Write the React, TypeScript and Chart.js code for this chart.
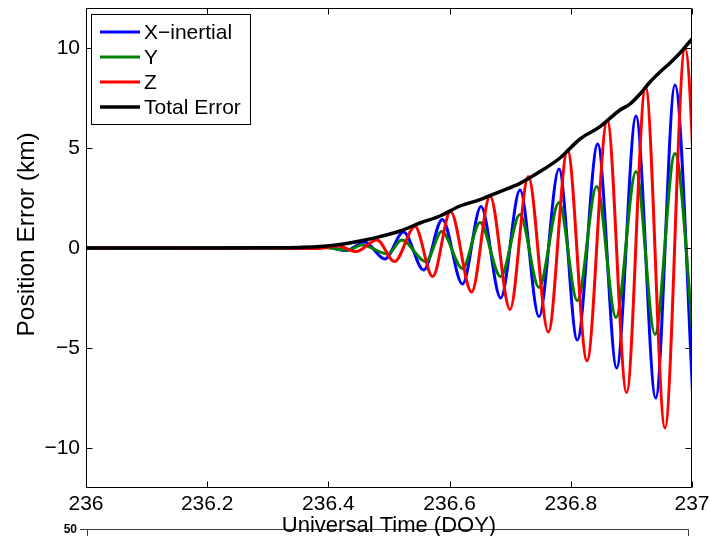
import React, { useEffect, useRef } from 'react';
import { Chart, registerables } from 'chart.js';

Chart.register(...registerables);

// ---- data (Day Of Year, km) ----
const xTicks = [236, 236.2, 236.4, 236.6, 236.8, 237];
const yTicks = [-10, -5, 0, 5, 10];

const blueX = [236, 236.1, 236.2, 236.3, 236.3317, 236.3652, 236.3959, 236.4292, 236.4599, 236.4932, 236.5239, 236.5573, 236.5879, 236.6213, 236.6518, 236.6843, 236.7162, 236.7475, 236.7805, 236.8107, 236.8444, 236.8757, 236.9076, 236.9401, 236.9719, 237.0039];
const blueY = [0, 0, 0, 0, 0.01, -0.02, 0.05, -0.13, 0.3, -0.55, 0.8, -1.1, 1.43, -1.8, 2.07, -2.5, 2.9, -3.43, 3.95, -4.6, 5.2, -6.0, 6.6, -7.5, 8.15, -9.0];

const greenX = [236, 236.1, 236.2, 236.3, 236.3647, 236.3911, 236.4323, 236.4554, 236.4983, 236.521, 236.5611, 236.587, 236.6213, 236.6502, 236.6843, 236.7162, 236.7475, 236.7805, 236.8107, 236.8427, 236.8746, 236.9076, 236.9389, 236.9719, 237.0033];
const greenY = [0, 0, 0, 0, -0.01, 0.02, -0.1, 0.15, -0.3, 0.4, -0.68, 0.82, -1.02, 1.27, -1.43, 1.68, -1.97, 2.27, -2.63, 3.07, -3.47, 3.82, -4.32, 4.73, -5.0];

const redX = [236, 236.1, 236.2, 236.3, 236.382, 236.4165, 236.4455, 236.4802, 236.5091, 236.5429, 236.5721, 236.6015, 236.6363, 236.6667, 236.6997, 236.7299, 236.7629, 236.7946, 236.8267, 236.8601, 236.8921, 236.9234, 236.9554, 236.9884, 237.021];
const redY = [0, 0.01, -0.01, 0, -0.03, 0.1, -0.18, 0.4, -0.68, 1.07, -1.43, 1.82, -2.2, 2.6, -3.07, 3.57, -4.2, 4.9, -5.64, 6.4, -7.23, 8.07, -9.0, 10.0, -10.8];

const totalX = [236, 236.1, 236.2, 236.3, 236.3531, 236.3861, 236.4191, 236.4521, 236.4851, 236.5182, 236.5512, 236.5842, 236.6172, 236.6502, 236.6832, 236.7162, 236.7492, 236.7822, 236.8152, 236.8482, 236.8812, 236.8977, 236.9142, 236.9307, 236.9472, 236.9637, 236.9802, 237.0];
const totalY = [0, 0, 0, 0.01, 0.03, 0.07, 0.18, 0.35, 0.57, 0.85, 1.25, 1.6, 2.1, 2.42, 2.82, 3.23, 3.82, 4.5, 5.45, 6.07, 6.9, 7.2, 7.7, 8.3, 8.8, 9.25, 9.75, 10.45];

const seriesLabels = ['X\u2212inertial', 'Y', 'Z', 'Total Error'];
const seriesColors = ['#0000ff', '#008000', '#ff0000', '#000000'];

const FONT = "'Liberation Sans', Arial, Helvetica, sans-serif";

const pts = (xs: number[], ys: number[]) => xs.map((x, i) => ({ x, y: ys[i] }));

const fmtMinus = (v: number) => (v < 0 ? '\u2212' + String(Math.abs(v)) : String(v));

const zeroPad = (s: any) => {
  s.paddingTop = 0;
  s.paddingBottom = 0;
  s.paddingLeft = 0;
  s.paddingRight = 0;
};

const framePlugin = {
  id: 'matlabFrame',
  beforeDraw(chart: any) {
    const ctx = chart.ctx;
    const ca = chart.chartArea;
    ctx.save();
    // remnant of the next subplot at the bottom of the figure
    ctx.strokeStyle = '#3a3a3a';
    ctx.lineWidth = 1;
    ctx.beginPath();
    ctx.moveTo(ca.left + 1.5, 529.5);
    ctx.lineTo(688.5, 529.5);
    ctx.moveTo(ca.left + 1.5, 529.5);
    ctx.lineTo(ca.left + 1.5, 540);
    ctx.moveTo(688.5, 529.5);
    ctx.lineTo(688.5, 540);
    ctx.moveTo(ca.left - 6, 529.5);
    ctx.lineTo(ca.left + 1.5, 529.5);
    ctx.stroke();
    ctx.fillStyle = '#000';
    ctx.font = `bold 12px ${FONT}`;
    ctx.textAlign = 'right';
    ctx.textBaseline = 'middle';
    ctx.fillText('50', ca.left - 9, 530);
    ctx.restore();
  },
  afterDatasetsDraw(chart: any) {
    const ctx = chart.ctx;
    const ca = chart.chartArea;
    const xs = chart.scales.x;
    const ys = chart.scales.y;
    const L = Math.round(ca.left) + 0.5;
    const R = Math.round(ca.right) - 0.5;
    const T = Math.round(ca.top) + 0.5;
    const B = Math.round(ca.bottom) - 0.5;
    ctx.save();
    ctx.strokeStyle = '#000';
    ctx.lineWidth = 1;
    ctx.beginPath();
    ctx.rect(L, T, R - L, B - T);
    const tl = 6;
    xs.ticks.forEach((t: any) => {
      const px = Math.round(xs.getPixelForValue(t.value)) + 0.5;
      ctx.moveTo(px, B);
      ctx.lineTo(px, B - tl);
      ctx.moveTo(px, T);
      ctx.lineTo(px, T + tl);
    });
    ys.ticks.forEach((t: any) => {
      const py = Math.round(ys.getPixelForValue(t.value)) + 0.5;
      ctx.moveTo(L, py);
      ctx.lineTo(L + tl, py);
      ctx.moveTo(R, py);
      ctx.lineTo(R - tl, py);
    });
    ctx.stroke();

    // legend box
    const bx = 91.5, by = 14.5, bw = 159, bh = 110;
    ctx.fillStyle = '#fff';
    ctx.fillRect(bx, by, bw, bh);
    ctx.strokeRect(bx, by, bw, bh);
    ctx.font = `21px ${FONT}`;
    ctx.textAlign = 'left';
    ctx.textBaseline = 'middle';
    chart.data.datasets.forEach((ds: any, i: number) => {
      const cy = 32 + i * 25;
      ctx.strokeStyle = ds.borderColor;
      ctx.lineWidth = ds.borderWidth;
      ctx.beginPath();
      ctx.moveTo(100, cy);
      ctx.lineTo(140, cy);
      ctx.stroke();
      ctx.fillStyle = '#000';
      ctx.fillText(ds.label, 144, cy + 1);
    });
    ctx.restore();
  },
};

export default function App() {
  const ref = useRef<HTMLCanvasElement | null>(null);

  useEffect(() => {
    document.body.style.margin = '0';
    const canvas = ref.current;
    if (!canvas) return;
    const seriesX = [blueX, greenX, redX, totalX];
    const seriesY = [blueY, greenY, redY, totalY];
    const chart = new Chart(canvas, {
      type: 'line',
      data: {
        datasets: seriesLabels.map((label, i) => ({
          label,
          data: pts(seriesX[i], seriesY[i]),
          borderColor: seriesColors[i],
          backgroundColor: seriesColors[i],
          borderWidth: i === 3 ? 3.5 : 3,
          pointRadius: 0,
          fill: false,
          clip: 0,
          cubicInterpolationMode: 'monotone' as const,
          order: 4 - i,
        })),
      },
      options: {
        animation: false,
        responsive: false,
        events: [],
        layout: { padding: { left: 0, top: 8, right: 18, bottom: 0 } },
        plugins: {
          legend: { display: false },
          tooltip: { enabled: false },
        },
        scales: {
          x: {
            type: 'linear',
            min: 236,
            max: 237,
            grid: { display: false, drawTicks: false },
            border: { display: false },
            afterBuildTicks: (s: any) => {
              s.ticks = xTicks.map((v) => ({ value: v }));
            },
            afterFit: (s: any) => {
              s.height = 48;
              zeroPad(s);
            },
            ticks: {
              color: '#000',
              font: { family: FONT, size: 21 },
              padding: 4,
              maxRotation: 0,
              autoSkip: false,
              callback: (v: any) => String(Number(Number(v).toFixed(1))),
            },
            title: {
              display: true,
              text: 'Universal Time (DOY)',
              color: '#000',
              font: { family: FONT, size: 22 },
              padding: { top: 0, bottom: -3 },
            },
          },
          y: {
            type: 'linear',
            min: -12,
            max: 12,
            grid: { display: false, drawTicks: false },
            border: { display: false },
            afterBuildTicks: (s: any) => {
              s.ticks = yTicks.map((v) => ({ value: v }));
            },
            afterFit: (s: any) => {
              s.width = 86;
              zeroPad(s);
            },
            ticks: {
              color: '#000',
              font: { family: FONT, size: 21 },
              padding: 6,
              callback: (v: any) => fmtMinus(Number(v)),
            },
            title: {
              display: true,
              text: '    Position Error (km)',
              color: '#000',
              font: { family: FONT, size: 24.5 },
              padding: { top: 13, bottom: 0 },
            },
          },
        },
      },
      plugins: [framePlugin],
    } as any);
    return () => chart.destroy();
  }, []);

  return (
    <div style={{ width: 710, height: 536, background: '#fff', overflow: 'hidden' }}>
      <canvas ref={ref} width={710} height={536} style={{ display: 'block' }} />
    </div>
  );
}
